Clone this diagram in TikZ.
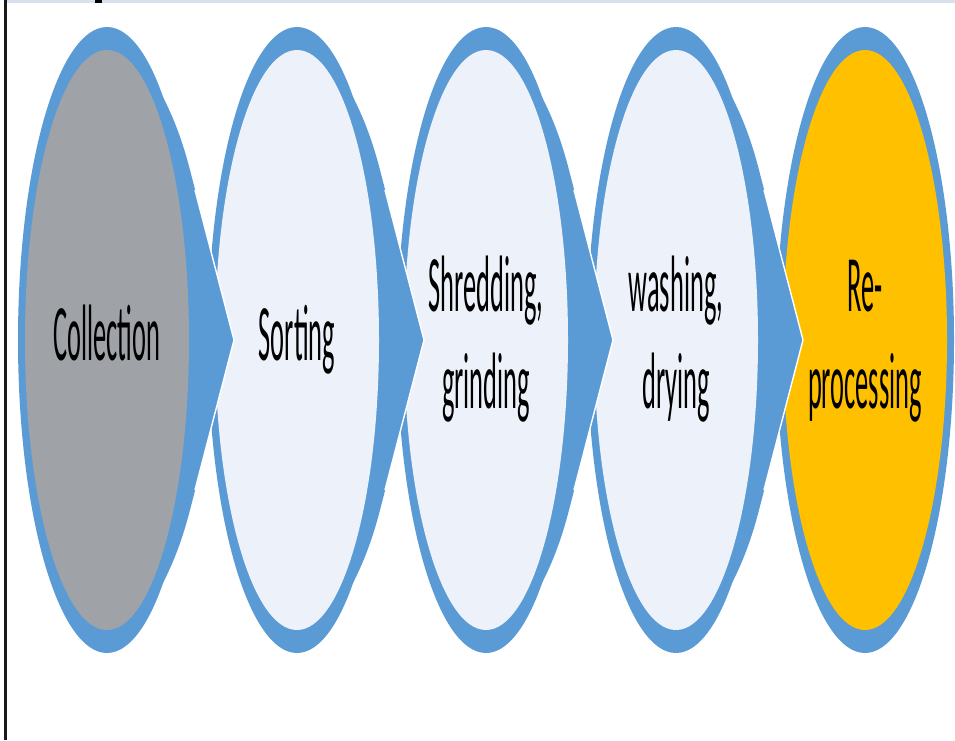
\documentclass[tikz,border=0pt]{standalone}
\usepackage{fontspec}
\setmainfont{Carlito}
\usepackage{graphicx}
\usetikzlibrary{shapes.geometric}

\definecolor{ringblue}{HTML}{5B9BD5}
\definecolor{stonegray}{HTML}{9FA3A8}
\definecolor{paleblue}{HTML}{EDF2FA}
\definecolor{amber}{HTML}{FFC000}
\definecolor{rulegray}{HTML}{D8E0EC}

% narrow, tall lettering for the stage names
\newcommand{\stagetext}[1]{\scalebox{0.33}[1]{\begin{tabular}{@{}c@{}}#1\end{tabular}}}

% blue chevron pointing from the stage centred at x=#1 to the next one;
% its flanks blend smoothly into the ring of the stage it leaves
\newcommand{\chevron}[1]{%
  \begin{scope}[shift={(#1,0)}]
    \fill[ringblue] (0,85) -- (45,78)
      .. controls (62,105) and (74,135) .. (83,170) -- (127,340) -- (83,510)
      .. controls (74,545) and (62,575) .. (45,602) -- (0,595) -- cycle;
    \draw[white, line width=1.4pt, line join=miter] (88,190) -- (127,340) -- (88,490);
  \end{scope}}

\tikzset{
  ring/.style={ellipse, fill=ringblue, draw=none, minimum width=178pt,
    minimum height=626pt, inner sep=0pt},
  core/.style={ellipse, draw=none, minimum width=164pt,
    minimum height=580pt, inner sep=0pt},
  lbl/.style={font=\fontsize{80}{97}\selectfont, text=black, inner sep=0pt}
}

\begin{document}
\begin{tikzpicture}[x=1pt, y=-1pt]
  \useasboundingbox (0,0) rectangle (955,740);
  \fill[white] (0,0) rectangle (955,740);

  % frame edges
  \fill[rulegray] (7,0) rectangle (955,2.5);
  \fill[black!90] (3.5,0) rectangle (6.5,740);
  \fill[black] (95,0) rectangle (102,2.5);

  % stages, drawn from right to left so each chevron tucks under its stage
  \node[ring] (r5) at (865,340) {};
  \node[core, fill=amber] (s5) at (865,340) {};

  \chevron{676}
  \node[ring] (r4) at (676,340) {};
  \node[core, fill=paleblue] (s4) at (676,340) {};

  \chevron{486}
  \node[ring] (r3) at (486,340) {};
  \node[core, fill=paleblue] (s3) at (486,340) {};

  \chevron{297}
  \node[ring] (r2) at (297,340) {};
  \node[core, fill=paleblue] (s2) at (297,340) {};

  \chevron{107}
  \node[ring] (r1) at (107,340) {};
  \node[core, fill=stonegray] (s1) at (107,340) {};

  % stage names
  \node[lbl] (t1) at (s1.center) [yshift=-1pt] {\stagetext{Collection}};
  \node[lbl] (t2) at (s2.center) [yshift=-1pt] {\stagetext{Sorting}};
  \node[lbl] (t3) at (s3.center) [yshift=-1pt] {\stagetext{Shredding,\\grinding}};
  \node[lbl] (t4) at (s4.center) [yshift=-1pt] {\stagetext{washing,\\drying}};
  \node[lbl] (t5) at (s5.center) [yshift=-1pt] {\stagetext{Re-\\processing}};
\end{tikzpicture}
\end{document}
